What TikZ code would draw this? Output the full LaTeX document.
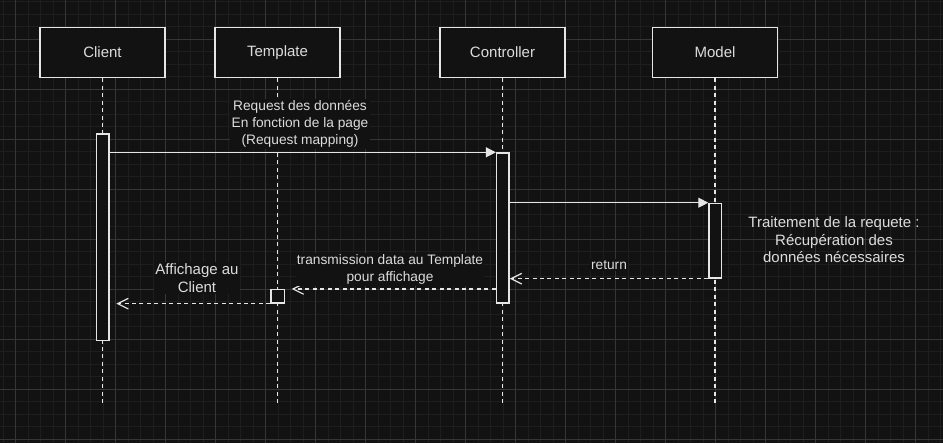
\documentclass[tikz,border=0pt]{standalone}
\usepackage{fontspec}
\setmainfont{Liberation Sans}
\usetikzlibrary{arrows.meta}
\definecolor{bgcol}{HTML}{121212}
\definecolor{minorcol}{HTML}{1E1E1E}
\definecolor{majorcol}{HTML}{363636}
\definecolor{linecol}{HTML}{E6E6E6}
\definecolor{txtcol}{HTML}{DCDCDC}
\begin{document}
\begin{tikzpicture}[x=0.75pt,y=-0.75pt,
                    actor/.style = {draw=linecol,fill=bgcol,line width=1pt,minimum width=93.75pt,minimum height=37.5pt,text=txtcol,font=\fontsize{11.25}{13.5}\selectfont},
                    bar/.style = {draw=linecol,fill=bgcol,line width=1pt,minimum width=9.4pt,anchor=north,inner sep=0pt},
                    lifeline/.style = {draw=linecol,line width=0.9pt,dash pattern=on 3pt off 2.6pt},
                    msglabel/.style = {fill=bgcol,text=txtcol,align=center,inner sep=1pt,font=\fontsize{10.3}{12.75}\selectfont},
                    note/.style = {text=txtcol,align=center,inner sep=1pt,font=\fontsize{11.25}{13.2}\selectfont},
                    call/.style = {draw=linecol,line width=0.9pt,-{Triangle[length=7.5pt,width=7.5pt]}},
                    reply/.style = {draw=linecol,line width=0.9pt,dash pattern=on 3pt off 2.6pt,-{Straight Barb[length=8pt,width=8pt]}}]
                    \fill[bgcol] (0,0) rectangle (943,443);
                    \useasboundingbox (0,0) rectangle (943,443);

                    \foreach \i in {0,...,75}
                        \draw[minorcol,line width=0.6pt] ({3.2+12.5*\i},0) -- ++(0,443);
                    \foreach \i in {0,...,35}
                        \draw[minorcol,line width=0.6pt] (0,{1.5+12.5*\i}) -- ++(943,0);
                    \foreach \i in {0,...,18}
                        \draw[majorcol,line width=0.6pt] ({15.7+50*\i},0) -- ++(0,443);
                    \foreach \i in {0,...,8}
                        \draw[majorcol,line width=0.6pt] (0,{39+50*\i}) -- ++(943,0);

                    \node[actor] (client) at (102.5,52.5) {Client};
                    \node[actor] (template) at (277.5,52.5) {Template};
                    \node[actor] (controller) at (502.5,52.5) {Controller};
                    \node[actor] (model) at (715,52.5) {Model};

                    \coordinate (clientend) at (102.5,403);
                    \coordinate (templateend) at (277.5,403);
                    \coordinate (controllerend) at (502.5,403);
                    \coordinate (modelend) at (715,403);

                    \draw[lifeline] (client.south) -- (clientend);
                    \draw[lifeline] (template.south) -- (templateend);
                    \draw[lifeline] (controller.south) -- (controllerend);
                    \draw[lifeline] (model.south) -- (modelend);

                    \node[bar,minimum height=155pt] (clientbar) at (102.7,133.3) {};
                    \node[bar,minimum height=112.5pt] (controllerbar) at (502.8,152.3) {};
                    \node[bar,minimum height=56pt] (modelbar) at (715.2,202.7) {};
                    \node[bar,minimum width=10pt,minimum height=10pt,anchor=center] (templatebox) at (277.7,296.3) {};

                    \draw[call] (clientbar.east |- controllerbar.north) -- (controllerbar.north west);
                    \draw[call] (controllerbar.east |- modelbar.north) -- (modelbar.north west);
                    \draw[reply] (modelbar.south west) -- (controllerbar.east |- modelbar.south);
                    \draw[reply,shorten >=5pt] (controllerbar.west |- templatebox.north) -- (templatebox.north east);
                    \draw[reply,shorten >=5pt] (templatebox.south west) -- (clientbar.east |- templatebox.south);

                    \node[msglabel] (requestlabel) at (300,124) {Request des données\\En fonction de la page\\(Request mapping)};
                    \node[msglabel] (returnlabel) at (609,265) {return};
                    \node[msglabel] (transmitlabel) at (390,269.5) {transmission data au Template\\pour affichage};
                    \node[note,fill=bgcol] (displaylabel) at (197,278) {Affichage au\\Client};
                    \node[note] (processlabel) at (834,240) {Traitement de la requete :\\Récupération des\\données nécessaires};
                \end{tikzpicture}
\end{document}
